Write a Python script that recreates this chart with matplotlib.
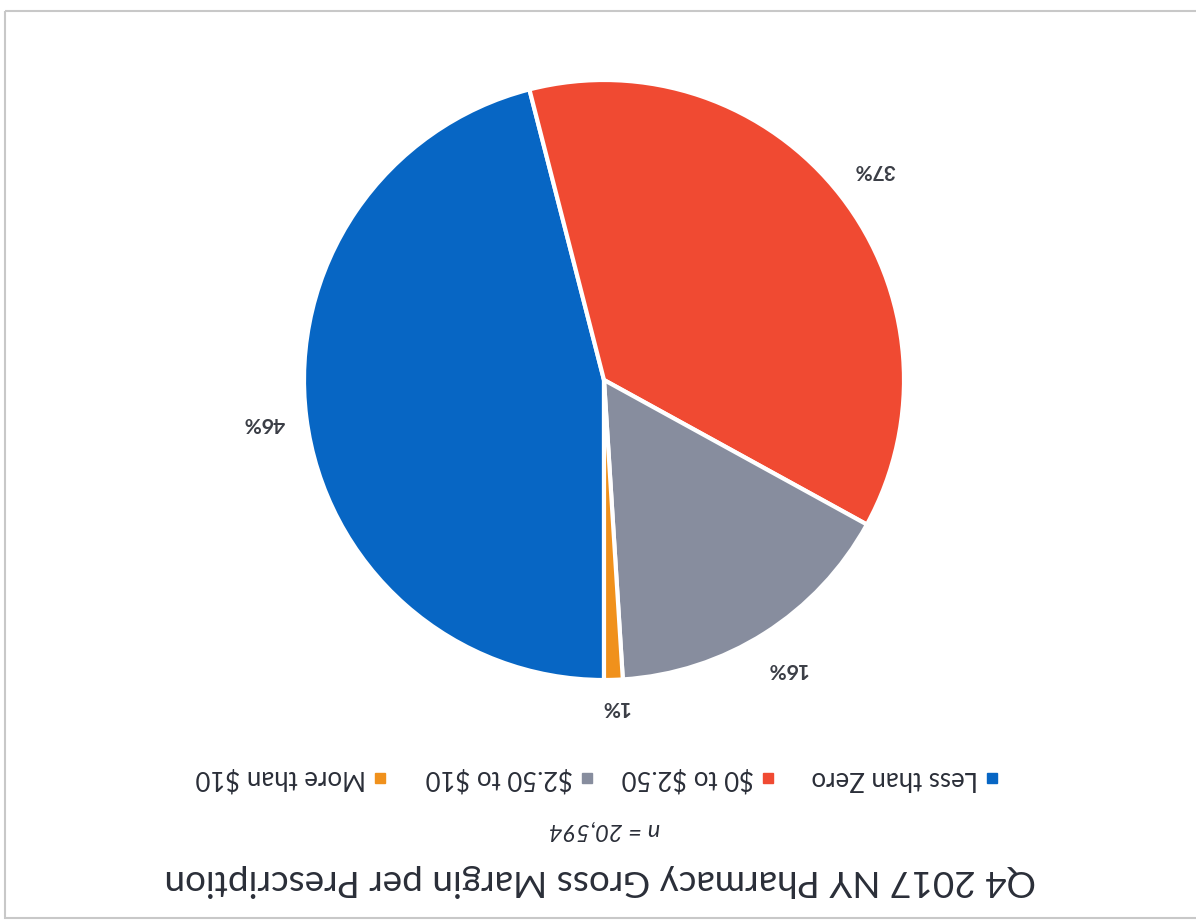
import numpy as np
import matplotlib
matplotlib.use('Agg')
import matplotlib.pyplot as plt
from matplotlib.patches import Rectangle

# the scanned page is upside down, so everything is drawn turned by 180 degrees
plt.rcParams['font.family'] = ['Lato', 'DejaVu Sans']

categories = ['Less than Zero', '$0 to $2.50', '$2.50 to $10', 'More than $10']
shares = [46, 37, 16, 1]
colors = ['#0766c4', '#f04a32', '#878d9e', '#f0911c']
title = 'Q4 2017 NY Pharmacy Gross Margin per Prescription'
subtitle = 'n = 20,594'

W, H = 1196, 921
fig = plt.figure(figsize=(W / 100, H / 100), dpi=100)

# pie axes: centre (604, 380) px, radius 300 px
cx, cy, r = 604, 380, 300
ax = fig.add_axes([(cx - r) / W, 1 - (cy + r) / H, 2 * r / W, 2 * r / H])
wedges, texts, autotexts = ax.pie(
    shares, colors=colors, startangle=-90, counterclock=False,
    autopct='%d%%', pctdistance=1.14,
    wedgeprops=dict(edgecolor='white', linewidth=3),
    textprops=dict(rotation=180, fontsize=15, fontweight='bold', color='#3a3d45'))
autotexts[3].set_position((autotexts[3].get_position()[0], -1.09))
ax.set_xlim(-1, 1)
ax.set_ylim(-1, 1)
ax.axis('off')

# overlay in pixel coordinates for texts, legend and frame
ov = fig.add_axes([0, 0, 1, 1], zorder=-1)
ov.set_xlim(0, W)
ov.set_ylim(H, 0)
ov.axis('off')
ov.add_patch(Rectangle((5, 11), W + 10, 907, fill=False, edgecolor='#c8c8c8', lw=1.5))

ov.text(600, 880, title, rotation=180, ha='center', va='center',
        rotation_mode='anchor', fontsize=26.6, color='#2a2e38')
ov.text(604, 830, subtitle, rotation=180, ha='center', va='center',
        rotation_mode='anchor', fontsize=17, style='italic', color='#2a2e38')

marker_x = [992, 768, 587, 380]
for name, col, mx in zip(categories, colors, marker_x):
    ov.add_patch(Rectangle((mx - 5, 773), 10, 10, color=col))
    ov.text(mx - 14, 778, name, rotation=180, ha='left', va='center',
            rotation_mode='anchor', fontsize=18.5, color='#2a2e38',
            parse_math=False)

fig.savefig('out.png', dpi=100)
plt.close()
